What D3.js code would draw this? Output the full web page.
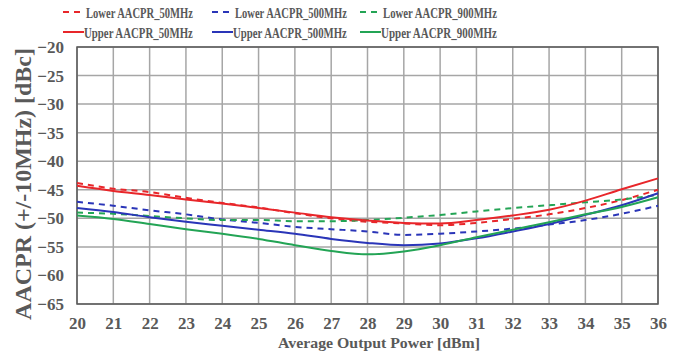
<!DOCTYPE html>
<html><head><meta charset="utf-8">
<script src="https://cdn.jsdelivr.net/npm/d3@7"></script>
<style>body{margin:0;background:#fff}svg{display:block}text{font-family:"Liberation Serif","Times New Roman",serif;font-weight:bold;fill:#595959}</style>
</head><body><svg id="c" width="684" height="359"></svg>
<script>
const xValues = [20,21,22,23,24,25,26,27,28,29,30,31,32,33,34,35,36];
const xTicks = [20,21,22,23,24,25,26,27,28,29,30,31,32,33,34,35,36];
const yTicks = [-20,-25,-30,-35,-40,-45,-50,-55,-60,-65];
const seriesNames = ["Lower AACPR_50MHz","Lower AACPR_500MHz","Lower AACPR_900MHz","Upper AACPR_50MHz","Upper AACPR_500MHz","Upper AACPR_900MHz"];
const lower50  = [-43.8,-44.8,-45.4,-46.4,-47.3,-48.1,-49.1,-50.0,-50.6,-50.9,-51.2,-50.8,-50.1,-49.3,-48.2,-46.8,-45.0];
const lower500 = [-47.1,-47.8,-48.6,-49.3,-50.2,-50.8,-51.5,-51.9,-52.3,-52.9,-52.7,-52.3,-51.8,-51.1,-50.3,-49.2,-47.8];
const lower900 = [-49.0,-49.2,-49.6,-50.0,-50.3,-50.3,-50.5,-50.5,-50.3,-49.9,-49.4,-48.8,-48.2,-47.7,-47.2,-46.7,-45.9];
const upper50  = [-44.3,-45.2,-45.9,-46.7,-47.4,-48.2,-49.0,-49.8,-50.4,-50.8,-50.9,-50.3,-49.5,-48.5,-46.9,-44.9,-43.0];
const upper500 = [-48.2,-48.9,-49.8,-50.6,-51.3,-52.0,-52.7,-53.6,-54.3,-54.7,-54.4,-53.5,-52.3,-51.0,-49.4,-47.7,-45.6];
const upper900 = [-49.5,-50.1,-51.0,-51.9,-52.7,-53.6,-54.7,-55.7,-56.3,-55.8,-54.7,-53.3,-52.0,-50.7,-49.3,-48.0,-46.3];
const colors = ["#e8262a","#2a35b8","#23a455","#e8262a","#2a35b8","#23a455"];
const dashed = [true,true,true,false,false,false];
const seriesData = [lower50,lower500,lower900,upper50,upper500,upper900];

const svg = d3.select("#c");
const L=77,R=658,T=47,B=304;
const x = d3.scaleLinear().domain([20,36]).range([L,R]);
const y = d3.scaleLinear().domain([-65,-20]).range([B,T]);

// grid
const g = svg.append("g");
g.selectAll(".vg").data(xTicks).enter().append("line")
 .attr("x1",d=>x(d)).attr("x2",d=>x(d)).attr("y1",T).attr("y2",B)
 .attr("stroke","#a6a6a6").attr("stroke-width",1.5);
g.selectAll(".hg").data(yTicks).enter().append("line")
 .attr("x1",L).attr("x2",R).attr("y1",d=>y(d)).attr("y2",d=>y(d))
 .attr("stroke","#a6a6a6").attr("stroke-width",1.5);
g.append("rect").attr("x",L).attr("y",T).attr("width",R-L).attr("height",B-T)
 .attr("fill","none").attr("stroke","#595959").attr("stroke-width",1.5);

// axes labels
const xa = svg.append("g").attr("transform",`translate(0,${B})`)
 .call(d3.axisBottom(x).tickValues(xTicks).tickSize(0).tickPadding(13).tickFormat(d3.format("d")));
xa.select(".domain").remove();
xa.selectAll("text").attr("font-size",17).style("fill","#595959").attr("font-family","Liberation Serif").attr("font-weight","bold");
const ya = svg.append("g").attr("transform",`translate(${L},0)`)
 .call(d3.axisLeft(y).tickValues(yTicks).tickSize(0).tickPadding(13).tickFormat(d3.format("d")));
ya.select(".domain").remove();
ya.selectAll("text").attr("font-size",17).style("fill","#595959").attr("font-family","Liberation Serif").attr("font-weight","bold");

function fitText(sel, target){
  const w = sel.node().getComputedTextLength();
  return target / w;
}
const xt = svg.append("text").attr("text-anchor","middle").attr("font-size",15).text("Average Output Power [dBm]");
xt.attr("transform",`translate(379,348) scale(${fitText(xt,202)},1)`);
const yt = svg.append("text").attr("text-anchor","middle").attr("font-size",24).text("AACPR (+/-10MHz) [dBc]");
yt.attr("transform",`translate(31,184) rotate(-90) scale(${fitText(yt,272)},1)`);

// lines
const line = d3.line().x((d,i)=>x(xValues[i])).y(d=>y(d)).curve(d3.curveMonotoneX);
seriesData.forEach((s,k)=>{
  svg.append("path").datum(s).attr("d",line).attr("fill","none")
   .attr("stroke",colors[k]).attr("stroke-width",2)
   .attr("stroke-dasharray",dashed[k]?"6,5":null);
});

// legend
const lx=[63,212,360], ly=[12,32], rEdge=[193,347,497];
seriesNames.forEach((n,k)=>{
  const col=k%3,row=Math.floor(k/3);
  const gx=lx[col],gy=ly[row];
  const lineLen = dashed[k]?17:21;
  svg.append("line").attr("x1",gx).attr("x2",gx+lineLen).attr("y1",gy).attr("y2",gy)
   .attr("stroke",colors[k]).attr("stroke-width",2).attr("stroke-dasharray",dashed[k]?"6,5":null);
  const tx = gx+(dashed[k]?23:21);
  const t = svg.append("text").attr("font-size",15.5).text(n);
  t.attr("transform",`translate(${tx},${gy+5.5}) scale(${fitText(t,rEdge[col]-tx)},1)`);
});
</script></body></html>
